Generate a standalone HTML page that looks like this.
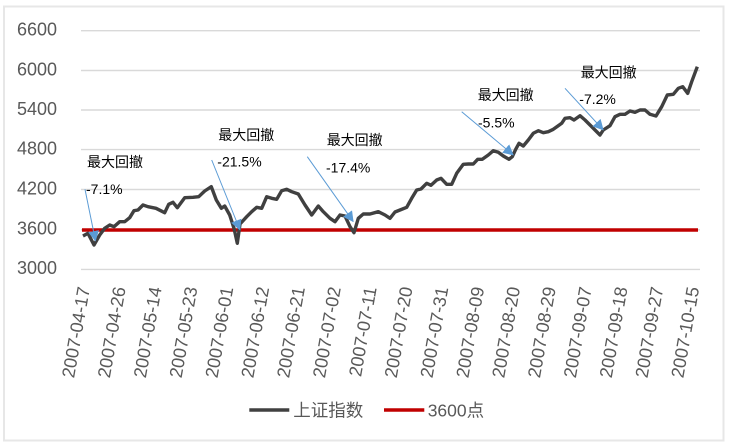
<!DOCTYPE html>
<html>
<head>
<meta charset="utf-8">
<style>
  html,body{margin:0;padding:0;background:#fff;}
  svg{display:block;}
  .yl{font-family:"Liberation Sans","Noto Sans CJK SC",sans-serif;font-size:18px;fill:#595959;}
  .xl{font-family:"Liberation Sans","Noto Sans CJK SC",sans-serif;font-size:18px;fill:#595959;}
  .an{font-family:"Liberation Sans","Noto Sans CJK SC",sans-serif;font-size:14px;fill:#000;}
  .lg{font-family:"Liberation Sans","Noto Sans CJK SC",sans-serif;font-size:17.5px;fill:#595959;}
</style>
</head>
<body>
<svg width="734" height="446" viewBox="0 0 734 446" xmlns="http://www.w3.org/2000/svg">
  <defs>
    <marker id="ah" markerWidth="11" markerHeight="12" refX="10" refY="5.5" orient="auto" markerUnits="userSpaceOnUse">
      <path d="M0,0 L10.5,5.5 L0,11 z" fill="#5B9BD5"/>
    </marker>
  </defs>
  <rect x="0" y="0" width="734" height="446" fill="#fff"/>
  <rect x="4" y="6.5" width="719.5" height="434" fill="#fff" stroke="#e7e7e7" stroke-width="2"/>

  <!-- gridlines -->
  <g stroke="#d9d9d9" stroke-width="1.4">
    <line x1="81" y1="30.7" x2="700" y2="30.7"/>
    <line x1="81" y1="70.5" x2="700" y2="70.5"/>
    <line x1="81" y1="110" x2="700" y2="110"/>
    <line x1="81" y1="149.6" x2="700" y2="149.6"/>
    <line x1="81" y1="189.5" x2="700" y2="189.5"/>
    <line x1="81" y1="229.8" x2="700" y2="229.8"/>
    <line x1="81" y1="269.4" x2="700" y2="269.4"/>
  </g>

  <!-- y labels -->
  <g class="yl" text-anchor="end">
    <text x="57" y="35.5">6600</text>
    <text x="57" y="75.3">6000</text>
    <text x="57" y="114.8">5400</text>
    <text x="57" y="154.4">4800</text>
    <text x="57" y="194.3">4200</text>
    <text x="57" y="234.6">3600</text>
    <text x="57" y="274.2">3000</text>
  </g>

  <!-- red 3600 line -->
  <line x1="82" y1="230" x2="698" y2="230" stroke="#C00000" stroke-width="3.6"/>

  <!-- index series -->
  <polyline fill="none" stroke="#404040" stroke-width="3.4" stroke-linejoin="round" points="
83,236 88,233.3 94,245 99.7,235 104.7,228.3 109.7,225 114,226.7 119.7,221.7 124.7,221.7 129.7,217.7
134,210.7 138,210 143,205 148,206.7 156,208.3 164.7,212.7 168.7,204.3 173,202.3 177.3,207.7 184.7,197.7
193,197.3 198.7,196.7 204.7,191 211.3,186.7 216.3,200 221.3,208.3 224.7,206 229.7,215 234,228.3 237.3,243.3
240,224 246.7,216.7 251.7,211.7 256.7,207.3 261.7,208.3 266.7,196.7 271.7,198.3 276.7,199.3 281.7,190.7
286.7,189.3 291.7,191.7 298.3,194 305,205 311.7,215 318.3,206 323.3,211.7 330,218.3 335,221.7 340,215
345,216 350,226.7 354,232.7 358.3,218.3 363.3,214 370,214 378.3,211.7 385,215 390,218.3 395,212
400,210 406.7,207.3 411.7,198.3 416.7,190 421,189 426.7,183.3 431,185.3 436.7,180 441,178.3 446.7,184.3
451.7,184.3 456.7,173.3 463.3,164.3 468.3,164 473.3,164 477.7,159.3 482.3,159.3 488.3,155 493.3,150.7
498.3,152.3 503.3,156 509,159.3 512.3,156.7 515.7,149.3 519,143.3 523.3,146 528.3,140 533.3,133.3
538.3,130.7 543.3,132.7 548.3,131.7 553.3,129.3 561.7,123.3 565,118.3 570,117.7 574,120 580,115.7
585,120 590,125 595,130 600,135 603.3,130 610,125.7 615,116.7 620,114.3 625,114.3 630,111 635,112.3
640,110 645,110 650,114.3 656,116 661.7,106.7 667.3,95 673.3,94.3 678.3,88.3 682.7,86.7 687.7,93.3
691.7,81.7 697.3,66.7"/>

  <!-- arrows -->
  <g stroke="#5B9BD5" stroke-width="1" fill="none" marker-end="url(#ah)">
    <line x1="85" y1="189.3" x2="95.5" y2="241"/>
    <line x1="211.7" y1="160" x2="240" y2="230"/>
    <line x1="307.3" y1="156.7" x2="353.3" y2="221.7"/>
    <line x1="461.7" y1="111.7" x2="513.3" y2="155"/>
    <line x1="565" y1="88.3" x2="603.3" y2="130"/>
  </g>

  <!-- annotations -->
  <g class="an">
    <text x="87" y="167">最大回撤</text>
    <text x="86" y="194">-7.1%</text>
    <text x="218.3" y="140">最大回撤</text>
    <text x="217.3" y="166.7">-21.5%</text>
    <text x="326.7" y="145">最大回撤</text>
    <text x="326" y="172.7">-17.4%</text>
    <text x="477.7" y="100">最大回撤</text>
    <text x="478" y="127.7">-5.5%</text>
    <text x="580.7" y="77.3">最大回撤</text>
    <text x="579.3" y="104">-7.2%</text>
  </g>

  <!-- x labels -->
  <g class="xl" text-anchor="end">
    <text transform="translate(90,288) rotate(-80)">2007-04-17</text>
    <text transform="translate(125.8,288) rotate(-80)">2007-04-26</text>
    <text transform="translate(161.7,288) rotate(-80)">2007-05-14</text>
    <text transform="translate(197.5,288) rotate(-80)">2007-05-23</text>
    <text transform="translate(233.4,288) rotate(-80)">2007-06-01</text>
    <text transform="translate(269.2,288) rotate(-80)">2007-06-12</text>
    <text transform="translate(305,288) rotate(-80)">2007-06-21</text>
    <text transform="translate(340.9,288) rotate(-80)">2007-07-02</text>
    <text transform="translate(376.7,288) rotate(-80)">2007-07-11</text>
    <text transform="translate(412.6,288) rotate(-80)">2007-07-20</text>
    <text transform="translate(448.4,288) rotate(-80)">2007-07-31</text>
    <text transform="translate(484.2,288) rotate(-80)">2007-08-09</text>
    <text transform="translate(520.1,288) rotate(-80)">2007-08-20</text>
    <text transform="translate(555.9,288) rotate(-80)">2007-08-29</text>
    <text transform="translate(591.8,288) rotate(-80)">2007-09-07</text>
    <text transform="translate(627.6,288) rotate(-80)">2007-09-18</text>
    <text transform="translate(663.4,288) rotate(-80)">2007-09-27</text>
    <text transform="translate(699.3,288) rotate(-80)">2007-10-15</text>
  </g>

  <!-- legend -->
  <line x1="249.3" y1="410" x2="289.3" y2="410" stroke="#404040" stroke-width="3.4"/>
  <text class="lg" x="293.3" y="416.5">上证指数</text>
  <line x1="384" y1="410" x2="424.3" y2="410" stroke="#C00000" stroke-width="3.6"/>
  <text class="lg" x="427.7" y="416.5">3600点</text>
</svg>
</body>
</html>
